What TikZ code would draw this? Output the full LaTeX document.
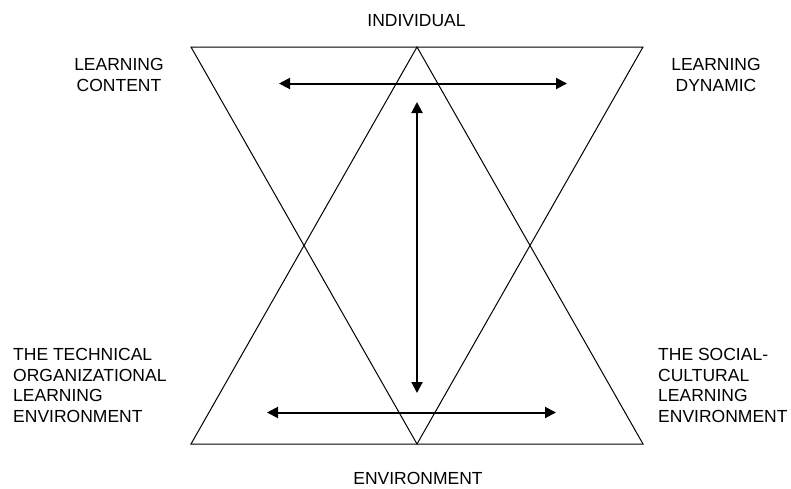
\documentclass[tikz,border=0pt]{standalone}
\usepackage{fontspec}
\setmainfont{Liberation Sans}
\usetikzlibrary{arrows.meta}

\begin{document}
\begin{tikzpicture}[x=1pt,y=-1pt,
  tri/.style={draw=black,line width=1pt},
  arr/.style={{Triangle[length=11pt,width=11pt]}-{Triangle[length=11pt,width=11pt]},line width=2pt},
  lbl/.style={font=\fontsize{17.5}{20.7}\selectfont,inner sep=0pt,align=center},
  lbll/.style={lbl,align=left,anchor=north west}]
  \useasboundingbox (0,0) rectangle (791,488);
  % ---- corners of the two triangles
  \coordinate (tl)  at (191,47);
  \coordinate (tr)  at (643,47);
  \coordinate (tm)  at (417,47);
  \coordinate (bl)  at (191,444);
  \coordinate (br)  at (643,444);
  \coordinate (bm)  at (417,444);
  \draw[tri] (tl) -- (tr) -- (bm) -- cycle;
  \draw[tri] (bl) -- (br) -- (tm) -- cycle;
  % ---- arrow ends
  \coordinate (upL)  at (279,83.5);
  \coordinate (upR)  at (567,83.5);
  \coordinate (loL)  at (267,412.5);
  \coordinate (loR)  at (556,412.5);
  \coordinate (vtop) at (417,102);
  \coordinate (vbot) at (417,393);
  \draw[arr] (upL) -- (upR);
  \draw[arr] (loL) -- (loR);
  \draw[arr] (vtop) -- (vbot);
  % ---- labels
  \node[lbl,anchor=base]  (indiv) at (416.5,26.7) {INDIVIDUAL};
  \node[lbl,anchor=base]  (envir) at (418,484.5)  {ENVIRONMENT};
  \node[lbl,anchor=north] (cont)  at (119,58.3)   {LEARNING\\CONTENT};
  \node[lbl,anchor=north] (dyn)   at (716,58.3)   {LEARNING\\DYNAMIC};
  \node[lbll] (tech) at (13,348) {THE TECHNICAL\\ORGANIZATIONAL\\LEARNING\\ENVIRONMENT};
  \node[lbll] (soc)  at (658,348) {THE SOCIAL-\\CULTURAL\\LEARNING\\ENVIRONMENT};
\end{tikzpicture}
\end{document}
